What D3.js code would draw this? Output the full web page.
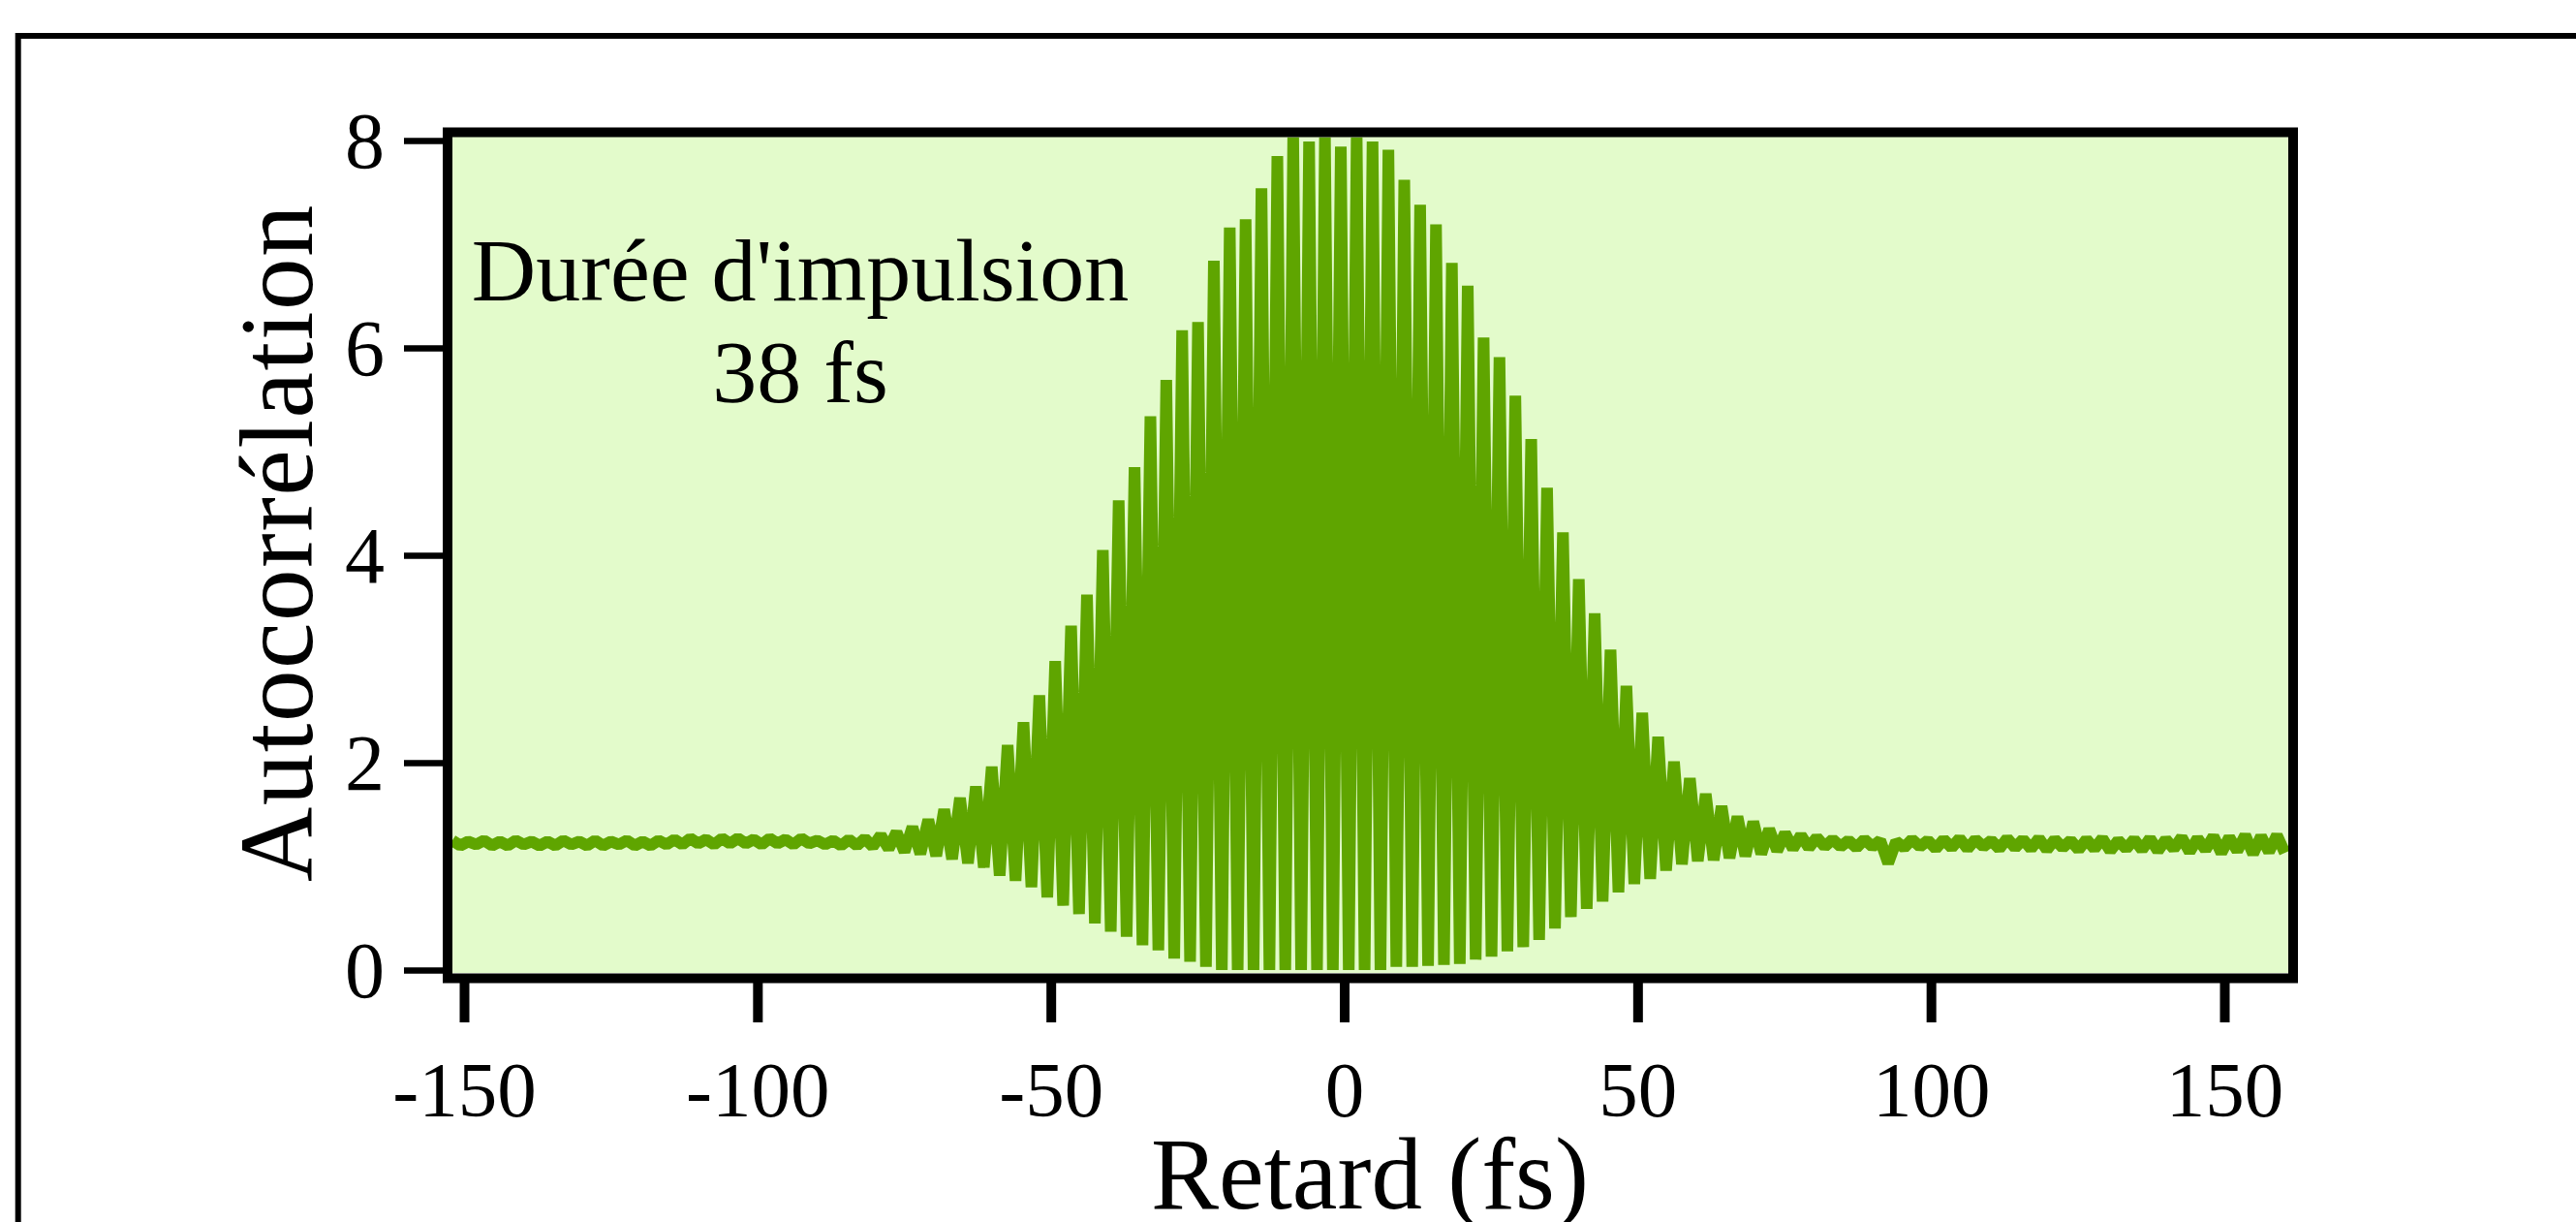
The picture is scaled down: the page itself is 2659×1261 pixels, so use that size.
<!DOCTYPE html>
<html lang="fr">

<head>
  <meta charset="UTF-8">
  <title>Autocorrélation</title>
  <script src="https://cdn.jsdelivr.net/npm/d3@7/dist/d3.min.js"></script>
  <style>
    body { margin: 0; background: #fff; }
    svg { display: block; }
  </style>
</head>

<body>
  <svg width="2659" height="1261"></svg>
  <script>
    // fringe grid: one peak and one trough per optical period
    var firstPeak = -152.0
    var fringePeriod = 2.704

    // upper value of each fringe (left to right)
    var fringePeaks = [
      1.25, 1.24, 1.25, 1.24, 1.25, 1.24, 1.24, 1.25, 1.24, 1.25, 1.24, 1.25, 1.24, 1.25, 1.26,
      1.27, 1.26, 1.27, 1.27, 1.26, 1.27, 1.26, 1.27,
      1.25, 1.25, 1.26,
      1.27, 1.30, 1.33, 1.38, 1.45, 1.55, 1.66,
      1.77, 1.96, 2.17, 2.39, 2.65, 2.98,
      3.32, 3.62, 4.05, 4.53, 4.85, 5.34, 5.69, 6.17, 6.25, 6.84, 7.16, 7.24, 7.54, 7.85, 8.03,
      7.99, 8.03, 7.94, 8.03, 7.99, 7.91, 7.62, 7.38, 7.19, 6.82, 6.60, 6.10, 5.91, 5.54, 5.12, 4.65,
      4.22, 3.77, 3.44, 3.09, 2.74, 2.48, 2.25, 2.01, 1.85, 1.70, 1.58, 1.48, 1.43, 1.36,
      1.32, 1.30, 1.28, 1.26, 1.25, 1.26, 1.25, 1.24, 1.26, 1.25, 1.26, 1.27, 1.26, 1.25, 1.27, 1.26,
      1.27, 1.26, 1.25, 1.26, 1.27, 1.25, 1.26, 1.27, 1.26, 1.28, 1.27, 1.29, 1.28, 1.30, 1.29, 1.30
    ]

    // lower value following each peak
    var fringeTroughs = [
      1.20, 1.21, 1.20, 1.20, 1.21, 1.20, 1.20, 1.21, 1.20, 1.20, 1.21, 1.20, 1.20, 1.21, 1.21,
      1.22, 1.21, 1.22, 1.22, 1.21, 1.22, 1.21, 1.22, 1.21, 1.20, 1.20,
      1.19, 1.17, 1.14, 1.12, 1.10, 1.07, 1.03,
      0.99, 0.91, 0.86, 0.80, 0.70, 0.62,
      0.54, 0.45, 0.37, 0.32, 0.24, 0.19, 0.11, 0.08, 0.03, 0.00,
      0.00, 0.00, 0.00, 0.00, 0.00, 0.00, 0.00, 0.00, 0.00, 0.00,
      0.03, 0.03, 0.04, 0.05, 0.06, 0.10, 0.13, 0.18, 0.22, 0.29,
      0.40, 0.51, 0.59, 0.66, 0.75, 0.83, 0.88, 0.96, 1.02, 1.05, 1.06, 1.08, 1.10, 1.12, 1.15,
      1.17, 1.18, 1.19, 1.19, 1.18, 1.19, 1.03, 1.18, 1.19, 1.17, 1.18, 1.17, 1.19, 1.17, 1.18, 1.17,
      1.16, 1.18, 1.16, 1.17, 1.15, 1.17, 1.16, 1.15, 1.17, 1.14, 1.16, 1.13, 1.15, 1.12, 1.14, 1.13
    ]

    var xTicks = [-150, -100, -50, 0, 50, 100, 150]
    var yTicks = [0, 2, 4, 6, 8]

    var serif = '"Liberation Serif", "Times New Roman", serif'
    var svg = d3.select('svg')

    // plot box (inner edges of the thick frame)
    var box = { left: 467, right: 2362, top: 141, bottom: 1004 }

    var x = d3.scaleLinear().domain([-150, 150]).range([479, 2296])
    var y = d3.scaleLinear().domain([0, 8]).range([1001, 145])

    // page frame
    svg.append('rect')
      .attr('x', 18.7)
      .attr('y', 37)
      .attr('width', 3000)
      .attr('height', 2000)
      .attr('fill', 'none')
      .attr('stroke', '#000')
      .attr('stroke-width', 6)

    svg.append('defs').append('clipPath')
      .attr('id', 'plotClip')
      .append('rect')
      .attr('x', box.left)
      .attr('y', box.top)
      .attr('width', box.right - box.left)
      .attr('height', box.bottom - box.top)

    svg.append('rect')
      .attr('x', box.left)
      .attr('y', box.top)
      .attr('width', box.right - box.left)
      .attr('height', box.bottom - box.top)
      .attr('fill', '#e3fbcb')

    // alternate peak / trough samples
    var samples = []
    fringePeaks.forEach((p, i) => {
      var t = firstPeak + i * fringePeriod
      samples.push([t, p])
      samples.push([t + fringePeriod / 2, fringeTroughs[i]])
    })

    var line = d3.line()
      .x(d => x(d[0]))
      .y(d => y(d[1]))

    svg.append('path')
      .datum(samples)
      .attr('clip-path', 'url(#plotClip)')
      .attr('d', line)
      .attr('fill', 'none')
      .attr('stroke', '#5fa500')
      .attr('stroke-width', 12)
      .attr('stroke-linejoin', 'bevel')

    // thick plot frame
    svg.append('rect')
      .attr('x', box.left - 5)
      .attr('y', box.top - 4.5)
      .attr('width', box.right - box.left + 10)
      .attr('height', box.bottom - box.top + 10)
      .attr('fill', 'none')
      .attr('stroke', '#000')
      .attr('stroke-width', 10)

    // y axis
    var yAxis = svg.append('g')
      .attr('transform', 'translate(457,0)')
      .call(d3.axisLeft(y).tickValues(yTicks).tickSize(40).tickPadding(20).tickFormat(d => String(d)))
    yAxis.select('.domain').remove()
    yAxis.selectAll('line').attr('stroke', '#000').attr('stroke-width', 6.5)
    yAxis.selectAll('text')
      .attr('fill', '#000')
      .attr('font-family', serif)
      .attr('font-size', 82)
      .attr('dy', '0.33em')

    // x axis
    var xAxis = svg.append('g')
      .attr('transform', 'translate(0,1014)')
      .call(d3.axisBottom(x).tickValues(xTicks).tickSize(41).tickFormat(d => String(d)))
    xAxis.select('.domain').remove()
    xAxis.selectAll('line').attr('stroke', '#000').attr('stroke-width', 10)
    xAxis.selectAll('text')
      .attr('fill', '#000')
      .attr('font-family', serif)
      .attr('font-size', 81)
      .attr('y', 138)
      .attr('dy', 0)

    svg.append('text')
      .attr('x', 1414)
      .attr('y', 1247)
      .attr('text-anchor', 'middle')
      .attr('font-family', serif)
      .attr('font-size', 105)
      .text('Retard (fs)')

    svg.append('text')
      .attr('transform', 'translate(322,560) rotate(-90)')
      .attr('text-anchor', 'middle')
      .attr('font-family', serif)
      .attr('font-size', 107)
      .attr('letter-spacing', 1.5)
      .text('Autocorrélation')

    var note = svg.append('text')
      .attr('text-anchor', 'middle')
      .attr('font-family', serif)
      .attr('font-size', 92)
    note.append('tspan').attr('x', 826).attr('y', 310).text("Durée d'impulsion")
    note.append('tspan').attr('x', 826).attr('y', 415).text('38 fs')
  </script>
</body>

</html>
